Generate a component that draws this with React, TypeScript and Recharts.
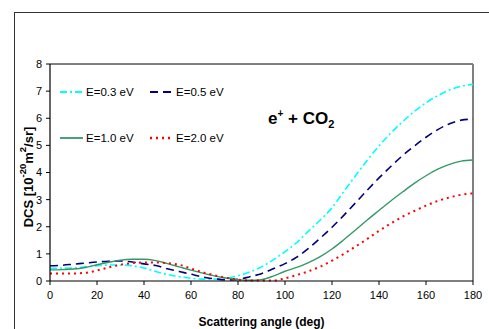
import React from 'react';
import { LineChart, Line, XAxis, YAxis, ReferenceLine } from 'recharts';

const angles = [0,5,10,15,20,25,30,35,40,45,50,55,60,65,70,75,80,85,90,95,100,105,110,115,120,125,130,135,140,145,150,155,160,165,170,175,180];
const e03 = [0.47,0.47,0.48,0.52,0.56,0.59,0.59,0.56,0.48,0.35,0.24,0.16,0.10,0.07,0.07,0.11,0.19,0.33,0.52,0.78,1.08,1.42,1.84,2.25,2.70,3.30,3.88,4.45,4.98,5.45,5.87,6.25,6.57,6.83,7.04,7.18,7.25];
const e05 = [0.56,0.58,0.62,0.66,0.70,0.73,0.74,0.70,0.63,0.57,0.45,0.35,0.25,0.15,0.08,0.04,0.06,0.16,0.27,0.45,0.64,0.88,1.20,1.58,1.98,2.42,2.88,3.35,3.80,4.22,4.62,4.97,5.30,5.58,5.80,5.93,5.97];
const e10 = [0.41,0.42,0.44,0.50,0.60,0.69,0.77,0.80,0.80,0.75,0.64,0.52,0.40,0.29,0.19,0.11,0.05,0.03,0.05,0.18,0.36,0.50,0.68,0.90,1.18,1.52,1.88,2.25,2.60,2.95,3.28,3.60,3.88,4.12,4.30,4.42,4.46];
const e20 = [0.28,0.28,0.28,0.30,0.39,0.50,0.60,0.66,0.68,0.68,0.66,0.60,0.46,0.32,0.21,0.12,0.05,0.02,0.02,0.02,0.10,0.22,0.36,0.53,0.75,1.00,1.27,1.55,1.85,2.12,2.37,2.58,2.78,2.95,3.08,3.18,3.23];

const xTicks = [0,20,40,60,80,100,120,140,160,180];
const yTicks = [0,1,2,3,4,5,6,7,8];

const series = [
  { key: 'e03', name: 'E=0.3 eV', color: '#00FFFF', dash: '7 3 2 3', width: 1.6 },
  { key: 'e05', name: 'E=0.5 eV', color: '#000080', dash: '8 5', width: 1.6 },
  { key: 'e10', name: 'E=1.0 eV', color: '#339966', dash: undefined, width: 1.4 },
  { key: 'e20', name: 'E=2.0 eV', color: '#FF0000', dash: '2 4', width: 2 },
];

const data = angles.map((a, i) => ({ angle: a, e03: e03[i], e05: e05[i], e10: e10[i], e20: e20[i] }));

const font = '"Liberation Sans", Arial, sans-serif';

const legendPos = [
  { left: 60, top: 92 },
  { left: 150, top: 92 },
  { left: 60, top: 138 },
  { left: 150, top: 138 },
];

const LegendBox = () => (
  <>
    {series.map((s, i) => (
      <div key={s.key} style={{ position: 'absolute', left: legendPos[i].left, top: legendPos[i].top - 8, height: 16, display: 'flex', alignItems: 'center', fontFamily: font, fontSize: 11.5, color: '#000', whiteSpace: 'nowrap' }}>
        <svg width={23} height={6} style={{ marginRight: 3 }}>
          <line x1={0} y1={3} x2={23} y2={3} stroke={s.color} strokeWidth={s.width + 0.4} strokeDasharray={s.dash} />
        </svg>
        <span>{s.name}</span>
      </div>
    ))}
  </>
);

const YLabel = (props: any) => {
  const vb = props.viewBox || { x: 0, y: 0, width: 0, height: 0 };
  const cx = 28;
  const cy = vb.y + vb.height / 2 + 4.5;
  return (
    <text x={cx} y={cy} transform={`rotate(-90 ${cx} ${cy})`} textAnchor="middle" dominantBaseline="central" fontFamily={font} fontSize={13} fontWeight="bold" fill="#000">
      DCS [10<tspan dy={-6} fontSize={9.5}>-20</tspan><tspan dy={6}>m</tspan><tspan dy={-6} fontSize={9.5}>2</tspan><tspan dy={6}>/sr]</tspan>
    </text>
  );
};

export default function App() {
  return (
    <div style={{ position: 'absolute', left: 0, top: 0, width: 489, height: 329, background: '#fff', overflow: 'hidden' }}>
      <div style={{ position: 'absolute', left: 14, top: 12, width: 489, height: 329, borderLeft: '1.5px solid #333', borderTop: '1.5px solid #333' }} />
      <LineChart width={489} height={329} data={data} margin={{ top: 64, right: 16, left: 20, bottom: 18 }}>
        <XAxis
          dataKey="angle"
          type="number"
          domain={[0, 180]}
          ticks={xTicks}
          tickSize={4}
          tickMargin={6}
          axisLine={{ stroke: '#000', strokeWidth: 1.2 }}
          tickLine={{ stroke: '#000' }}
          tick={{ fontFamily: font, fontSize: 11, fill: '#000' }}
          height={30}
          label={{ value: 'Scattering angle (deg)', position: 'bottom', offset: 6, style: { fontFamily: font, fontSize: 12, fontWeight: 'bold', fill: '#000' } }}
        />
        <YAxis
          type="number"
          domain={[0, 8]}
          ticks={yTicks}
          tickSize={4}
          tickMargin={4}
          width={30}
          axisLine={{ stroke: '#000', strokeWidth: 1.2 }}
          tickLine={{ stroke: '#000' }}
          tick={{ fontFamily: font, fontSize: 11, fill: '#000' }}
          label={<YLabel />}
        />
        <ReferenceLine y={8} stroke="#000" strokeWidth={1} />
        <ReferenceLine x={180} stroke="#808080" strokeWidth={2} />
        {series.map((s) => (
          <Line key={s.key} type="monotone" dataKey={s.key} name={s.name} stroke={s.color} strokeWidth={s.width} strokeDasharray={s.dash} dot={false} isAnimationActive={false} />
        ))}
      </LineChart>
      <LegendBox />
      <div style={{ position: 'absolute', left: 268, top: 110, fontFamily: font, fontSize: 17, fontWeight: 'bold', color: '#000', whiteSpace: 'nowrap', lineHeight: '17px' }}>
        e<sup style={{ fontSize: 10, lineHeight: 0 }}>+</sup> + CO<sub style={{ fontSize: 11, lineHeight: 0 }}>2</sub>
      </div>
    </div>
  );
}
